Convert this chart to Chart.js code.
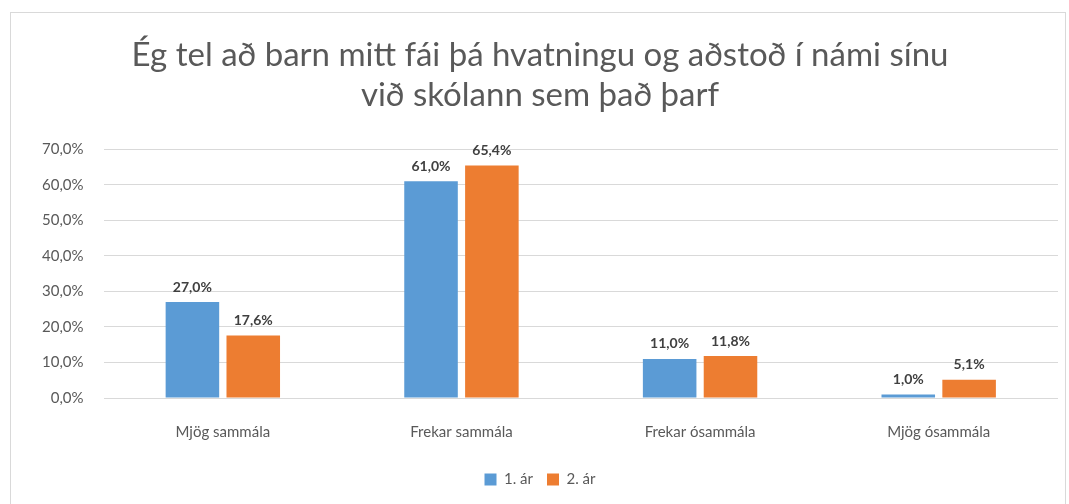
<!DOCTYPE html>
<html>
<head>
<meta charset="utf-8">
<script src="https://cdn.jsdelivr.net/npm/chart.js@4/dist/chart.umd.min.js"></script>
<style>
  html, body { margin: 0; padding: 0; background: #fff; }
  #wrap { position: relative; width: 1069px; height: 504px; }
  #frame { position: absolute; left: 10px; top: 12px; width: 1056px; height: 500px; border: 1px solid #d9d9d9; box-sizing: border-box; }
  canvas { position: absolute; left: 0; top: 0; }
</style>
</head>
<body>
<div id="wrap">
  <div id="frame"></div>
  <canvas id="surveyChart" width="1069" height="504"></canvas>
</div>
<script>
// Survey answers (percent of respondents)
const categories = ['Mjög sammála', 'Frekar sammála', 'Frekar ósammála', 'Mjög ósammála'];
const year1 = [27.0, 61.0, 11.0, 1.0];
const year2 = [17.6, 65.4, 11.8, 5.1];
const seriesNames = ['1. ár', '2. ár'];
const titleLines = ['Ég tel að barn mitt fái þá hvatningu og aðstoð í námi sínu', 'við skólann sem það þarf'];

const fmt = v => v.toFixed(1).replace('.', ',') + '%';

// simple value labels above each bar
const barLabels = {
    id: 'barLabels',
    afterDatasetsDraw(chart) {
        const c = chart.ctx;
        c.save();
        c.font = 'bold 14px Lato';
        c.fillStyle = '#404040';
        c.textAlign = 'center';
        c.textBaseline = 'bottom';
        chart.data.datasets.forEach((ds, i) => {
            chart.getDatasetMeta(i).data.forEach((bar, j) => {
                c.fillText(fmt(ds.data[j]), bar.x, bar.y - 8);
            });
        });
        c.restore();
    }
};

const ctx = document.getElementById('surveyChart').getContext('2d');
new Chart(ctx, {
    type: 'bar',
    data: {
        labels: categories,
        datasets: [
            { label: seriesNames[0], data: year1, backgroundColor: '#5B9BD5' },
            { label: seriesNames[1], data: year2, backgroundColor: '#ED7D31' }
        ]
    },
    options: {
        responsive: false,
        animation: false,
        datasets: { bar: { categoryPercentage: 0.51, barPercentage: 0.88 } },
        layout: { padding: { left: 22, right: 11, top: 36, bottom: 7 } },
        plugins: {
            title: {
                display: true,
                text: titleLines,
                color: '#595959',
                font: { family: 'Lato', size: 33, weight: 'normal' },
                lineHeight: 1.3,
                padding: { top: 0, bottom: 34 }
            },
            legend: {
                position: 'bottom',
                labels: {
                    color: '#595959',
                    font: { family: 'Lato', size: 15 },
                    boxWidth: 12,
                    boxHeight: 12,
                    padding: 14
                }
            },
            tooltip: { enabled: false }
        },
        scales: {
            x: {
                grid: { display: false },
                border: { display: false },
                ticks: { color: '#595959', font: { family: 'Lato', size: 15 }, padding: 17 }
            },
            y: {
                min: 0,
                max: 70,
                ticks: {
                    stepSize: 10,
                    color: '#595959',
                    font: { family: 'Lato', size: 15 },
                    padding: 20,
                    callback: v => fmt(v)
                },
                grid: { color: '#d9d9d9', drawTicks: false },
                border: { display: false }
            }
        }
    },
    plugins: [barLabels]
});
</script>
</body>
</html>
